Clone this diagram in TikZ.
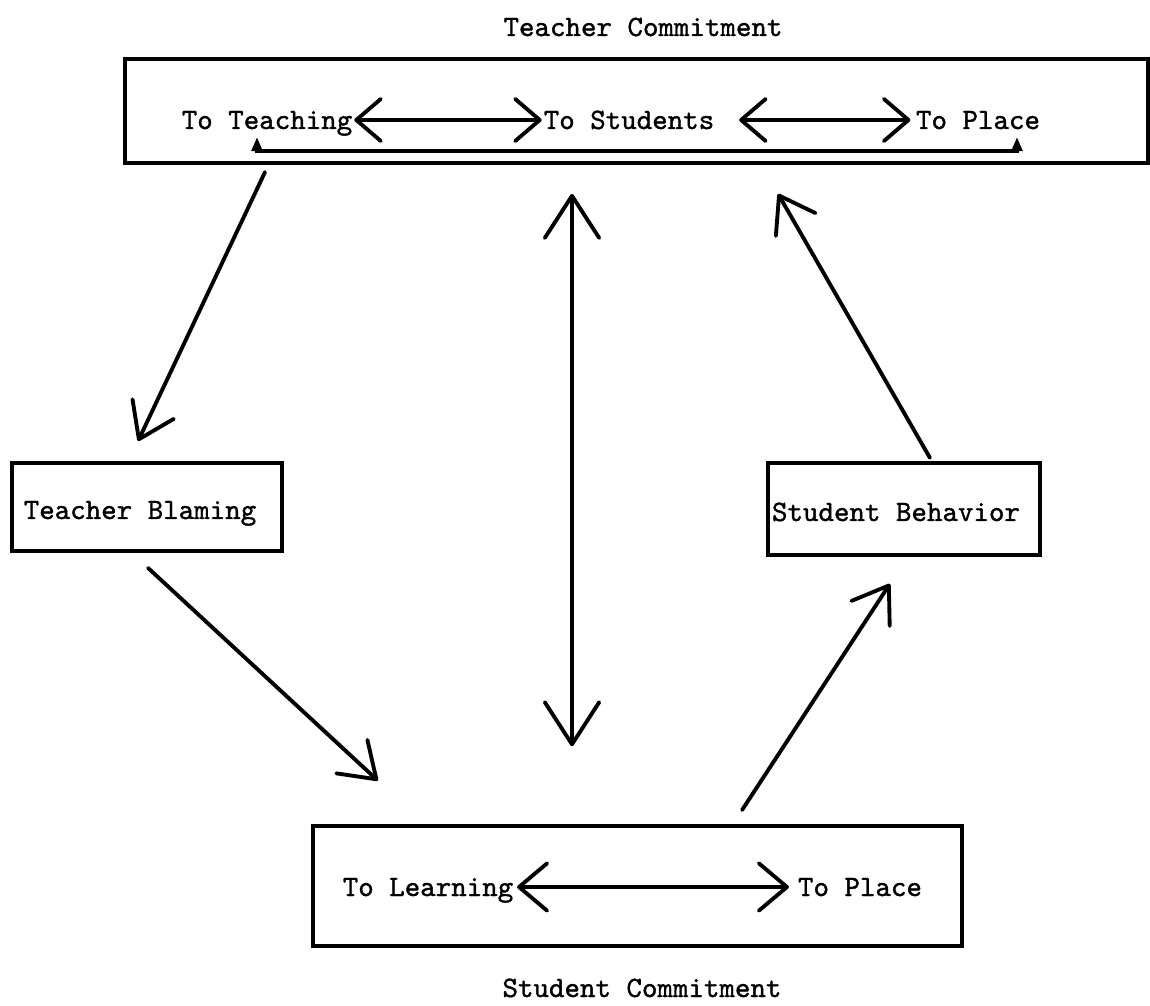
\documentclass[tikz,border=0pt]{standalone}
\usepackage{fontspec}
\newfontfamily\tw{lmmono10-regular.otf}[FakeBold=1.2]
\usetikzlibrary{arrows.meta}
\begin{document}
\begin{tikzpicture}[x=0.02cm,y=-0.02cm,
  txt/.style={font=\tw\fontsize{16.8}{19}\selectfont, inner sep=0pt, anchor=base},
  box/.style={draw, line width=2.4pt, inner sep=0pt, font=\tw\fontsize{16.8}{19}\selectfont},
  link/.style={line width=2.2pt, line cap=round},
  hbarb/.style={link, {Straight Barb[length=14pt,width=24pt,round]}-{Straight Barb[length=14pt,width=24pt,round]}},
  lbarb/.style={link, {Straight Barb[length=16pt,width=27pt,round]}-{Straight Barb[length=16pt,width=27pt,round]}},
  vbarb/.style={link, {Straight Barb[length=24pt,width=31pt,round]}-{Straight Barb[length=24pt,width=31pt,round]}},
  dbarb/.style={link, -{Straight Barb[length=19pt,width=26pt,round]}},
  smallarr/.style={line width=2pt, {Triangle[length=8pt,width=6pt]}-{Triangle[length=8pt,width=6pt]}}
]
\useasboundingbox (0,0) rectangle (1150,1006);

% titles
\node[txt] (tctitle) at (643,36) {Teacher Commitment};
\node[txt] (sctitle) at (642,997) {Student Commitment};

% top box
\node[box, minimum width=20.46cm, minimum height=2.08cm] (tcbox) at (636.5,111) {};
\node[txt] (teach) at (267,129) {To Teaching};
\node[txt] (stud) at (629,129) {To Students};
\node[txt] (place) at (978,129) {To Place};

% side boxes
\node[box, minimum width=5.4cm, minimum height=1.76cm] (tb) at (147,507) {};
\node[txt] (tbt) at (140,519) {Teacher Blaming};
\node[box, minimum width=5.44cm, minimum height=1.84cm] (sb) at (904,509) {};
\node[txt] (sbt) at (896,521) {Student Behavior};

% bottom box
\node[box, minimum width=12.98cm, minimum height=2.4cm] (scbox) at (637.5,886) {};
\node[txt] (learn) at (428,896) {To Learning};
\node[txt] (place2) at (860,896) {To Place};

% arrows in top box
\draw[hbarb, shorten <=1pt, shorten >=1pt] (teach.east |- 0,120) -- (stud.west |- 0,120);
\draw[hbarb, shorten <=14pt, shorten >=3pt] (stud.east |- 0,120) -- (place.west |- 0,120);
\coordinate (tcl) at (257,137);
\coordinate (tcr) at (1017,137);
\draw[smallarr] (tcl) |- (637,151) -| (tcr);

% arrow in bottom box
\draw[lbarb, shorten <=2pt, shorten >=5pt] (learn.east |- 0,887) -- (place2.west |- 0,887);

% connectors
\draw[dbarb, shorten <=4.4pt, shorten >=12.5pt] (268.3,0 |- tcbox.south) -- (128.7,0 |- tb.north);
\draw[dbarb, shorten <=12.4pt, shorten >=36.3pt] (132,0 |- tb.south) -- (424.6,0 |- scbox.north);
\draw[dbarb, shorten <=9.4pt, shorten >=18.2pt] (733,0 |- scbox.north) -- (907.4,0 |- sb.south);
\draw[dbarb, shorten <=2pt, shorten >=18.9pt] (931.7,0 |- sb.north) -- (761.5,0 |- tcbox.south);
\draw[vbarb, shorten <=16.4pt, shorten >=44.2pt] (572,0 |- tcbox.south) -- (572,0 |- scbox.north);
\end{tikzpicture}
\end{document}
